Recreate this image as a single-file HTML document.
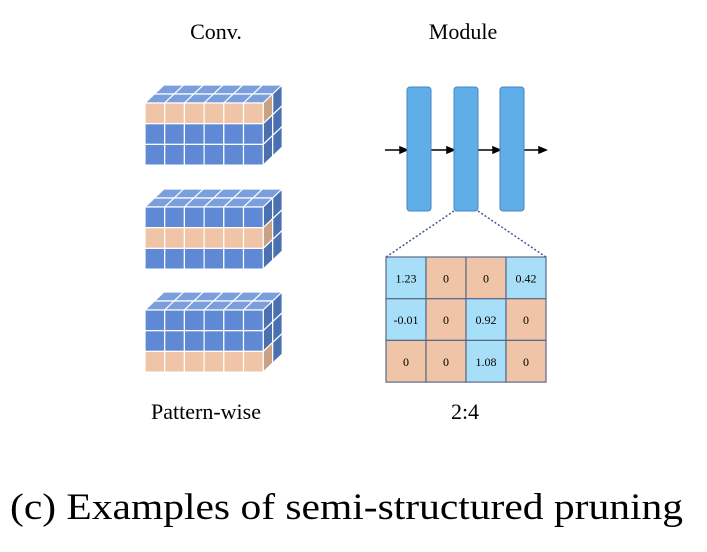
<!DOCTYPE html>
<html><head><meta charset="utf-8"><style>
html,body{margin:0;padding:0;background:#fff;width:707px;height:552px;overflow:hidden}
svg text{font-family:"Liberation Serif",serif;fill:#000}
</style></head><body>
<svg id="s" width="707" height="552" xmlns="http://www.w3.org/2000/svg">
<text x="216" y="39" font-size="22" text-anchor="middle">Conv.</text>
<text x="463" y="39" font-size="22" text-anchor="middle">Module</text>
<text x="206" y="419" font-size="22" text-anchor="middle">Pattern-wise</text>
<text x="465" y="419" font-size="22" text-anchor="middle">2:4</text>
<text x="10" y="519" font-size="37" textLength="673" lengthAdjust="spacingAndGlyphs">(c) Examples of semi-structured pruning</text>
<g stroke="#000" stroke-width="1.5" fill="#000">
<line x1="385" y1="150" x2="402" y2="150"/><polygon points="407,150 400,147 400,153"/>
<line x1="431" y1="150" x2="449" y2="150"/><polygon points="454,150 447,147 447,153"/>
<line x1="478" y1="150" x2="495" y2="150"/><polygon points="500,150 493,147 493,153"/>
<line x1="524" y1="150" x2="541" y2="150"/><polygon points="546,150 539,147 539,153"/>
</g>
<g fill="#5faee8" stroke="#4a86c0" stroke-width="1">
<rect x="407" y="87" width="24" height="124" rx="3"/>
<rect x="454" y="87" width="24" height="124" rx="3"/>
<rect x="500" y="87" width="24" height="124" rx="3"/>
</g>
<g stroke="#3d5a9c" stroke-width="1.5" stroke-dasharray="2,2">
<line x1="454" y1="211" x2="386" y2="257"/>
<line x1="478" y1="211" x2="546" y2="257"/>
</g>
<g id="grid"></g>
<g id="cubes"></g>
</svg>
<script>
var NS="http://www.w3.org/2000/svg";
function el(p,t,a){var e=document.createElementNS(NS,t);for(var k in a)e.setAttribute(k,a[k]);p.appendChild(e);return e;}
var g=document.getElementById('grid');
var vals=[["1.23","0","0","0.42"],["-0.01","0","0.92","0"],["0","0","1.08","0"]];
var blue=[[1,0,0,1],[1,0,1,0],[0,0,1,0]];
for(var r=0;r<3;r++)for(var c=0;c<4;c++){
 var x=386+c*40,y=257+r*41.7;
 el(g,'rect',{x:x,y:y,width:40,height:41.7,fill:blue[r][c]?'#a8dff8':'#f0c4a6',stroke:'#5a6a8a','stroke-width':1.2});
 var t=el(g,'text',{x:x+20,y:y+25.5,'font-size':'12','text-anchor':'middle'});t.textContent=vals[r][c];
}
var cg=document.getElementById('cubes');
var tops=[103,207,310];
for(var i=0;i<3;i++){
 var fy=tops[i],fx=145,cw=19.7,ch=20.7,dx=9.5,dy=9;
 for(var d=2;d>=1;d--)for(var c=0;c<6;c++){
  var x0=fx+c*cw+dx*(d-1),y0=fy-dy*(d-1),y1=y0-dy;
  el(cg,'polygon',{points:[x0,y0,x0+cw,y0,x0+cw+dx,y1,x0+dx,y1].join(' '),fill:'#7a9fdc',stroke:'#fff','stroke-width':1.2});
 }
 for(var d=0;d<2;d++)for(var r=0;r<3;r++){
  var x0=fx+6*cw+dx*d,y0=fy+r*ch-dy*d;
  el(cg,'polygon',{points:[x0,y0,x0+dx,y0-dy,x0+dx,y0-dy+ch,x0,y0+ch].join(' '),fill:(r==i&&d==0)?'#c9a184':'#4a70b0',stroke:'#fff','stroke-width':1.2});
 }
 for(var r=0;r<3;r++)for(var c=0;c<6;c++){
  el(cg,'rect',{x:fx+c*cw,y:fy+r*ch,width:cw,height:ch,fill:r==i?'#f0c4a6':'#5f89d4',stroke:'#fff','stroke-width':1.2});
 }
}
</script>
</body></html>
